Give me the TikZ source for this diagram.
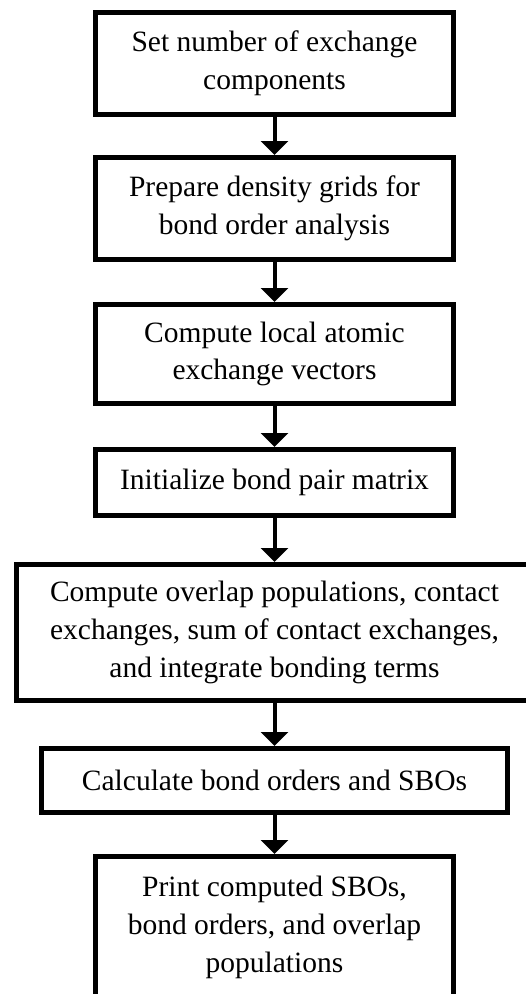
\documentclass[tikz,border=0pt]{standalone}
\usepackage{fontspec}
\setmainfont{Liberation Serif}
\usetikzlibrary{positioning,arrows.meta}
\tikzset{box node/.style={rectangle,draw,line width=5pt,align=center,minimum width=358pt,inner sep=0pt,font=\fontsize{29.5}{37.7}\selectfont},
flow arrow/.style={line width=4pt,-{Triangle[width=27pt,length=14pt]}},
}

\begin{document}
\begin{tikzpicture}[node distance = 40pt]
	\useasboundingbox (0,0) rectangle (526pt,-994pt);
	\node[box node,minimum height=102pt] (1) at (274.5pt,-63.5pt) {Set number of exchange\\components};
	\node[box node,minimum height=102pt] (2)[below = 38pt of 1]{Prepare density grids for\\bond order analysis};
	\node[box node,minimum height=99pt] (3)[below = of 2]{Compute local atomic\\exchange vectors};
	\node[box node,minimum height=66pt] (4)[below = 41pt of 3]{Initialize bond pair matrix};
	\node[box node,minimum height=136pt,minimum width=517pt] (5)[below = 44pt of 4]{Compute overlap populations, contact\\exchanges, sum of contact exchanges,\\and integrate bonding terms};
	\node[box node,minimum height=64pt,minimum width=466pt] (6)[below = 43pt of 5]{Calculate bond orders and SBOs};
	\node[box node,minimum height=142pt] (7)[below = 39pt of 6]{Print computed SBOs,\\bond orders, and overlap\\populations};
	
	\path[flow arrow]
	(1) edge (2)
	(2) edge (3)
	(3) edge (4)
	(4) edge (5)
	(5) edge (6)
	(6) edge (7);
\end{tikzpicture}
\end{document}
